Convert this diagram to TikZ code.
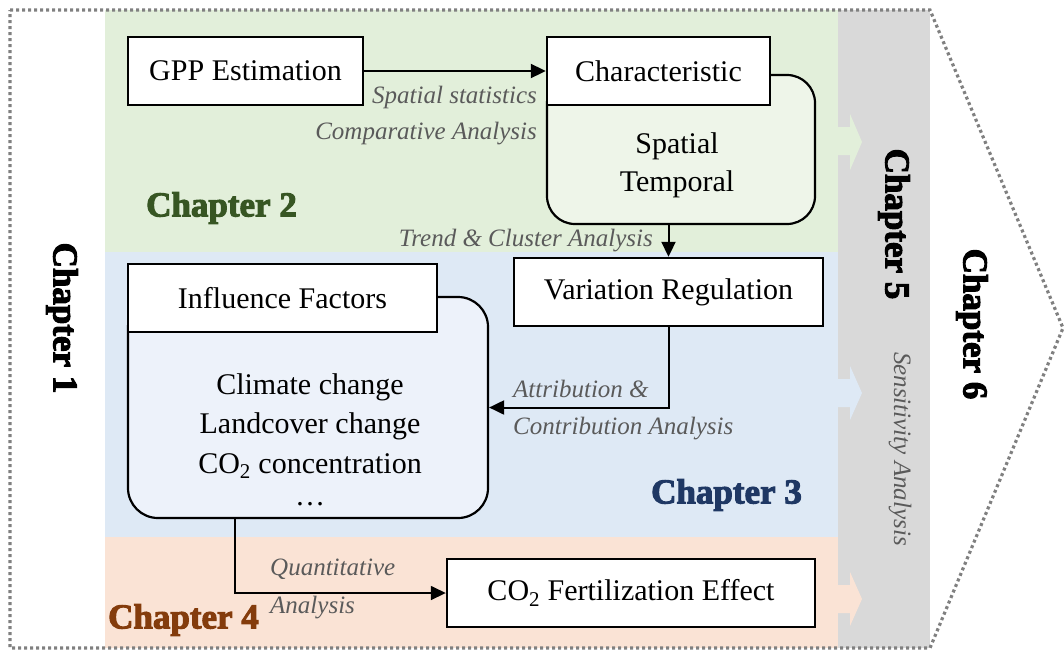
\documentclass[tikz,border=0pt]{standalone}
\usepackage{fontspec}
\setmainfont{Liberation Serif}
\newfontfamily\chapfont[FakeBold=3]{Liberation Serif Bold}
\usetikzlibrary{arrows.meta,calc}
\definecolor{bandgreen}{HTML}{E2EFDA}
\definecolor{bandblue}{HTML}{DEE9F5}
\definecolor{bandorange}{HTML}{FAE3D5}
\definecolor{bandgray}{HTML}{D9D9D9}
\definecolor{bodygreen}{HTML}{EEF5E9}
\definecolor{bodyblue}{HTML}{EDF2FA}
\definecolor{labgray}{HTML}{5A5A5A}
\definecolor{chgreen}{HTML}{375623}
\definecolor{chblue}{HTML}{1F3864}
\definecolor{chbrown}{HTML}{843C0C}
\definecolor{dotgray}{HTML}{808080}
\tikzset{
  hdr/.style={draw=black, line width=2.4pt, fill=white, inner sep=0pt, font=\fontsize{30}{36}\selectfont},
  body/.style={draw=black, line width=2.2pt, rounded corners=28pt, inner sep=0pt},
  btxt/.style={inner sep=0pt, font=\fontsize{30}{36}\selectfont},
  lab/.style={inner sep=0pt, text=labgray, font=\fontsize{25}{30}\selectfont\itshape},
  chap/.style={inner sep=0pt, font=\fontsize{35}{40}\selectfont\chapfont},
  arr/.style={line width=2pt, -{Triangle[length=15pt,width=14pt]}},
}
\begin{document}
\begin{tikzpicture}[x=1pt,y=-1pt]
\useasboundingbox (0,0) rectangle (1064,651);
% bands
\fill[bandgreen] (105,10) rectangle (838,252);
\fill[bandblue] (105,252) rectangle (838,537);
\fill[bandorange] (105,537) rectangle (838,648);
\fill[bandgray] (838,10) rectangle (930,648);
% block arrows
\fill[bandgreen] (838,127) -- (850,127) -- (850,114) -- (862,142) -- (850,170) -- (850,155) -- (838,155) -- cycle;
\fill[bandblue] (838,379) -- (850,379) -- (850,366) -- (862,393) -- (850,420) -- (850,407) -- (838,407) -- cycle;
\fill[bandorange] (838,585) -- (850,585) -- (850,572) -- (862,599) -- (850,626) -- (850,613) -- (838,613) -- cycle;
% outer dotted chevron
\draw[dotgray, line width=3.2pt, dash pattern=on 3pt off 3pt] (10,10) -- (930,10) -- (1063,328) -- (930,648) -- (10,648) -- cycle;
% chapter labels
\node[chap, rotate=-90] (ch1) at (62,318) {Chapter 1};
\node[chap, text=chgreen, anchor=west] (ch2) at (146,208) {Chapter 2};
\node[chap, text=chblue, anchor=west] (ch3) at (651,495) {Chapter 3};
\node[chap, text=chbrown, anchor=west] (ch4) at (108,620) {Chapter 4};
\node[chap, rotate=-90] (ch5) at (894,224) {Chapter 5};
\node[chap, rotate=-90] (ch6) at (972,324) {Chapter 6};
\node[lab, rotate=-90] (sens) at (900,449) {Sensitivity Analysis};
% Chapter 2 nodes
\node[hdr, minimum width=235, minimum height=68] (gpp) at (245.5,71) {GPP Estimation};
\node[body, fill=bodygreen, minimum width=268, minimum height=149] (charbody) at (681,149.5) {};
\node[hdr, minimum width=223, minimum height=68] (char) at (658.5,71) {Characteristic};
\node[btxt] (sp) at (677,146) {Spatial};
\node[btxt] (tp) at (677,184) {Temporal};
% Chapter 3 nodes
\node[hdr, minimum width=309, minimum height=68] (var) at (668.5,292) {Variation Regulation};
\node[body, fill=bodyblue, minimum width=360, minimum height=221, rounded corners=30pt] (infbody) at (308,407.5) {};
\node[hdr, minimum width=309, minimum height=68] (inf) at (282.5,298) {Influence Factors};
\node[btxt] (f1) at (310,387) {Climate change};
\node[btxt] (f2) at (310,426) {Landcover change};
\node[btxt] (f3) at (310,466) {CO\textsubscript{2} concentration};
\node[btxt] (f4) at (310,504) {\dots};
% Chapter 4 node
\node[hdr, minimum width=368, minimum height=68] (co2) at (631,593) {CO\textsubscript{2} Fertilization Effect};
% connectors
\draw[arr] (gpp.east) -- (char.west);
\draw[arr] (charbody.south -| var.north) -- (var.north);
\draw[arr] (var.south) |- (infbody.east);
\coordinate (infout) at ([xshift=-73pt]infbody.south);
\draw[arr, line width=1.6pt] (infout) |- (co2.west);
% connector labels
\node[lab, anchor=east] (l1) at (537,97) {Spatial statistics};
\node[lab, anchor=east] (l2) at (537,134) {Comparative Analysis};
\node[lab, anchor=east] (l3) at (653,241) {Trend \& Cluster Analysis};
\node[lab, anchor=west] (l4) at (513,389) {Attribution \&};
\node[lab, anchor=west] (l5) at (513,429) {Contribution Analysis};
\node[lab, anchor=west] (l6) at (270,569) {Quantitative};
\node[lab, anchor=west] (l7) at (270,608) {Analysis};
\end{tikzpicture}
\end{document}
